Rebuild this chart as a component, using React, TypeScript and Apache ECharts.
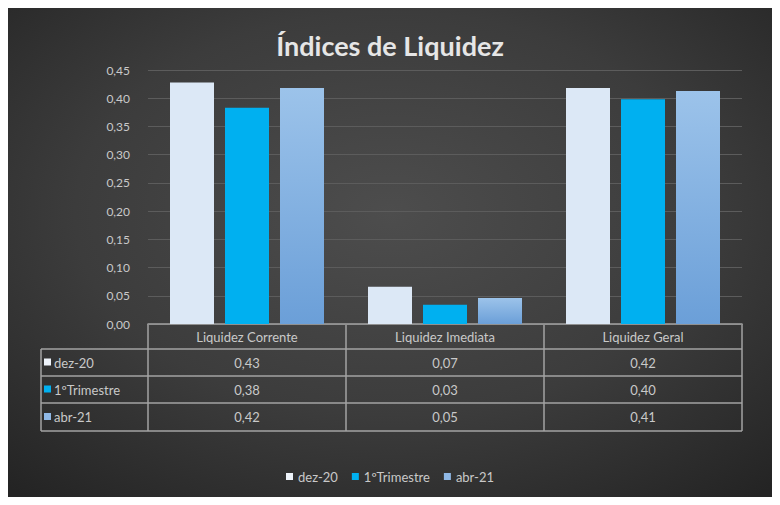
import React, { useEffect, useRef } from "react";
import * as echarts from "echarts";

const categories = ["Liquidez Corrente", "Liquidez Imediata", "Liquidez Geral"];
const seriesNames = ["dez-20", "1ºTrimestre", "abr-21"];
const dez20 = [0.428, 0.066, 0.418];
const trimestre1 = [0.383, 0.034, 0.398];
const abr21 = [0.418, 0.046, 0.413];
const seriesValues = [dez20, trimestre1, abr21];
const yMin = 0;
const yMax = 0.45;
const yInterval = 0.05;

const W = 764;
const H = 489;
const GRID_LEFT = 140;
const GRID_RIGHT = 30;
const GRID_TOP = 62;
const GRID_BOTTOM = 173;
const TABLE_LEFT = 33;
const ROW_Y = [316, 341, 368, 395, 423];
const FONT = "Lato, 'Open Sans', sans-serif";
const TEXT_COLOR = "#c9c9c9";
const LINE_COLOR = "#a3a3a3";

const fmt = (v: number) => v.toFixed(2).replace(".", ",");

const barColors: any[] = [
  "#dce8f6",
  "#00b0f0",
  {
    type: "linear",
    x: 0,
    y: 0,
    x2: 0,
    y2: 1,
    colorStops: [
      { offset: 0, color: "#9cc3ea" },
      { offset: 1, color: "#6b9fd8" },
    ],
  },
];
const keyColors = ["#eef3fa", "#00b0f0", "#8fb8e6"];

export default function App() {
  const ref = useRef<HTMLDivElement>(null);

  useEffect(() => {
    if (!ref.current) return;
    const chart = echarts.init(ref.current, undefined, { renderer: "svg" });

    const plotRight = W - GRID_RIGHT;
    const plotW = plotRight - GRID_LEFT;
    const colX = categories.map((_, i) => GRID_LEFT + (plotW * i) / categories.length);
    colX.push(plotRight);
    const tableBottom = ROW_Y[ROW_Y.length - 1];

    const graphic: any[] = [];
    const line = (x1: number, y1: number, x2: number, y2: number) => ({
      type: "line",
      shape: { x1, y1, x2, y2 },
      style: { stroke: LINE_COLOR, lineWidth: 1.5 },
      silent: true,
    });
    // horizontal lines
    for (let r = 1; r < ROW_Y.length; r++) {
      graphic.push(line(TABLE_LEFT, ROW_Y[r], plotRight, ROW_Y[r]));
    }
    // vertical lines
    colX.forEach((x) => graphic.push(line(x, ROW_Y[0], x, tableBottom)));
    graphic.push(line(TABLE_LEFT, ROW_Y[1], TABLE_LEFT, tableBottom));

    // header texts
    categories.forEach((c, i) => {
      graphic.push({
        type: "text",
        x: (colX[i] + colX[i + 1]) / 2,
        y: (ROW_Y[0] + ROW_Y[1]) / 2,
        style: {
          text: c,
          fill: TEXT_COLOR,
          font: `13px ${FONT}`,
          textAlign: "center",
          textVerticalAlign: "middle",
        },
      });
    });
    // rows
    seriesNames.forEach((name, r) => {
      const cy = (ROW_Y[r + 1] + ROW_Y[r + 2]) / 2;
      graphic.push({
        type: "rect",
        shape: { x: TABLE_LEFT + 3, y: cy - 4, width: 7, height: 7 },
        style: { fill: keyColors[r] },
      });
      graphic.push({
        type: "text",
        x: TABLE_LEFT + 13,
        y: cy,
        style: {
          text: name,
          fill: TEXT_COLOR,
          font: `13px ${FONT}`,
          textAlign: "left",
          textVerticalAlign: "middle",
        },
      });
      seriesValues[r].forEach((v, i) => {
        graphic.push({
          type: "text",
          x: (colX[i] + colX[i + 1]) / 2,
          y: cy,
          style: {
            text: fmt(v),
            fill: TEXT_COLOR,
            font: `13px ${FONT}`,
            textAlign: "center",
            textVerticalAlign: "middle",
          },
        });
      });
    });

    chart.setOption({
      animation: false,
      backgroundColor: {
        type: "radial",
        x: 0.5,
        y: 0.42,
        r: 0.75,
        colorStops: [
          { offset: 0, color: "#4d4d4d" },
          { offset: 0.55, color: "#3c3c3c" },
          { offset: 1, color: "#242424" },
        ],
      },
      title: {
        text: "Índices de Liquidez",
        left: "center",
        top: 19,
        textStyle: {
          color: "#e6e6e6",
          fontSize: 27,
          fontWeight: "bold",
          fontFamily: FONT,
        },
      },
      legend: {
        data: seriesNames.map((n, i) => ({ name: n, itemStyle: { color: keyColors[i] } })),
        bottom: 9,
        left: "center",
        icon: "rect",
        itemWidth: 7,
        itemHeight: 7,
        itemGap: 14,
        textStyle: { color: TEXT_COLOR, fontSize: 13, fontFamily: FONT },
      },
      grid: {
        left: GRID_LEFT,
        right: GRID_RIGHT,
        top: GRID_TOP,
        bottom: GRID_BOTTOM,
        containLabel: false,
      },
      xAxis: {
        type: "category",
        data: categories,
        axisLabel: { show: false },
        axisTick: { show: false },
        axisLine: { show: true, lineStyle: { color: LINE_COLOR, width: 1.5 } },
      },
      yAxis: {
        type: "value",
        min: yMin,
        max: yMax,
        interval: yInterval,
        axisLabel: {
          color: TEXT_COLOR,
          fontSize: 12,
          fontFamily: FONT,
          margin: 18,
          formatter: (v: number) => fmt(v),
        },
        axisLine: { show: false },
        axisTick: { show: false },
        splitLine: { lineStyle: { color: "#5c5c5c", width: 1 } },
      },
      series: seriesNames.map((n, i) => ({
        name: n,
        type: "bar",
        data: seriesValues[i],
        barWidth: 44,
        barGap: "25%",
        itemStyle: { color: barColors[i] },
      })),
      graphic,
    });

    return () => chart.dispose();
  }, []);

  return <div ref={ref} style={{ width: W, height: H }} />;
}
